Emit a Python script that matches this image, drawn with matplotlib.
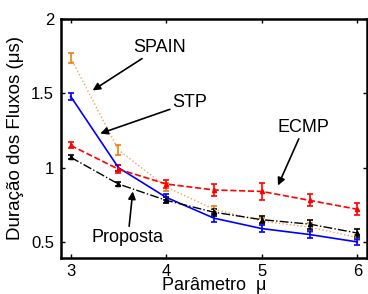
import matplotlib
matplotlib.use("Agg")
import matplotlib.pyplot as plt

plt.rcParams['font.family'] = ['Liberation Sans', 'DejaVu Sans']

x = [3, 3.5, 4, 4.5, 5, 5.5, 6]
spain = [1.74, 1.12, 0.87, 0.72, 0.64, 0.60, 0.53]
spain_err = [0.035, 0.035, 0.03, 0.02, 0.02, 0.03, 0.02]
stp = [1.48, 1.00, 0.80, 0.66, 0.59, 0.55, 0.50]
stp_err = [0.025, 0.02, 0.02, 0.025, 0.025, 0.025, 0.02]
ecmp = [1.15, 0.99, 0.89, 0.85, 0.84, 0.78, 0.72]
ecmp_err = [0.02, 0.025, 0.03, 0.04, 0.06, 0.04, 0.04]
proposta = [1.07, 0.89, 0.78, 0.70, 0.65, 0.62, 0.56]
proposta_err = [0.015, 0.015, 0.02, 0.025, 0.025, 0.03, 0.025]

fig = plt.figure(figsize=(3.68, 2.94), dpi=100)
ax = fig.add_axes([0.166, 0.124, 0.831, 0.811])

ax.errorbar(x, spain, yerr=spain_err, color='#f5a05a', ls=':', lw=1.0,
            ecolor='#e8820c', elinewidth=1.2, capsize=2.5, capthick=1.2)
ax.errorbar(x, stp, yerr=stp_err, color='#0000ff', ls='-', lw=1.2,
            elinewidth=1.2, capsize=2.5, capthick=1.2)
ax.errorbar(x, ecmp, yerr=ecmp_err, color='#ff0000', ls='--', lw=1.2,
            marker='^', ms=3, elinewidth=1.2, capsize=2.5, capthick=1.2)
ax.errorbar(x, proposta, yerr=proposta_err, color='black', ls='-.', lw=1.0,
            marker='^', ms=3, elinewidth=1.2, capsize=2.5, capthick=1.2)

ax.set_xlim(2.9, 6.1)
ax.set_ylim(0.395, 2.0)
ax.set_xticks([3, 4, 5, 6])
ax.set_yticks([0.5, 1, 1.5, 2])
ax.set_yticklabels(['0.5', '1', '1.5', '2'])
ax.tick_params(direction='in', length=3, width=1, labelsize=12,
               top=True, right=True, pad=5)
for s in ax.spines.values():
    s.set_linewidth(1.8)

ax.set_xlabel('Parâmetro  μ', fontsize=13, labelpad=-2)
ax.set_ylabel('Duração dos Fluxos (μs)', fontsize=13.5, labelpad=5)

arrow = dict(arrowstyle='-|>', color='black', lw=1.2, mutation_scale=11, shrinkA=0, shrinkB=0)
ax.annotate('SPAIN', xy=(3.23, 1.52), xytext=(3.93, 1.81), fontsize=13,
            ha='center', va='center', arrowprops=arrow)
ax.annotate('STP', xy=(3.31, 1.23), xytext=(4.25, 1.44), fontsize=13,
            ha='center', va='center', arrowprops=arrow)
ax.annotate('ECMP', xy=(5.17, 0.88), xytext=(5.44, 1.27), fontsize=13,
            ha='center', va='center', arrowprops=arrow)
ax.annotate('Proposta', xy=(3.65, 0.84), xytext=(3.6, 0.53), fontsize=13,
            ha='center', va='center', arrowprops=arrow)

fig.savefig('out.png', dpi=100)
